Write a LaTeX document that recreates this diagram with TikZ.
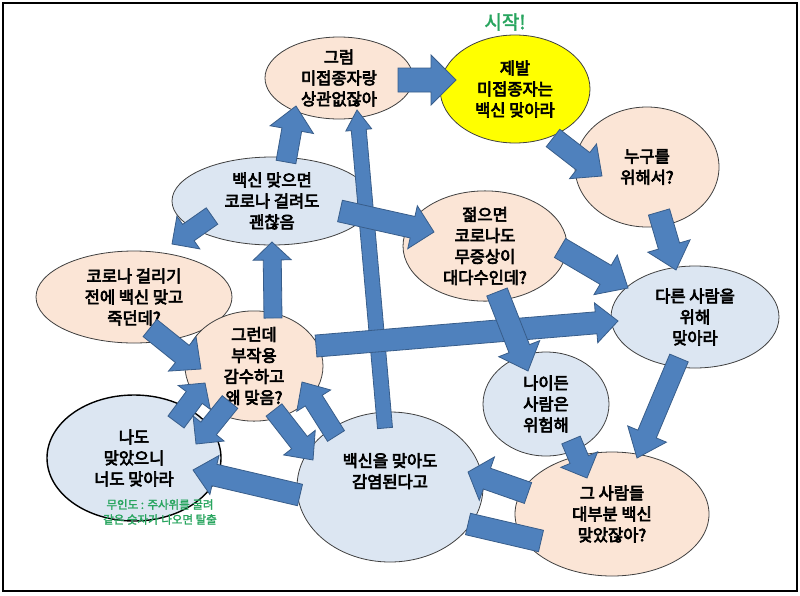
\documentclass[tikz,border=0pt]{standalone}
\usepackage{fontspec}
\setmainfont{Noto Sans CJK KR}
\newfontfamily\krb{Noto Sans CJK KR}[FakeBold=4]
\newfontfamily\krm{Noto Sans CJK KR}[FakeBold=2]
\usetikzlibrary{shapes.geometric,calc}
\definecolor{peach}{RGB}{251,229,214}
\definecolor{lblue}{RGB}{220,230,242}
\definecolor{arrfill}{RGB}{79,129,189}
\definecolor{arrline}{RGB}{56,93,138}
\definecolor{startgreen}{RGB}{40,165,95}
\definecolor{yel}{RGB}{255,255,0}
\tikzset{
 bub/.style={ellipse, draw=black!75, line width=0.8pt, inner sep=0pt, align=center, font=\krb\fontsize{16.5}{21}\selectfont},
 pch/.style={bub, fill=peach},
 blu/.style={bub, fill=lblue},
 arr/.style={fill=arrfill, draw=arrline, line width=0.8pt, line join=miter},
}
\newcommand\blk[5]{%
 \coordinate (blkH) at ($(#2)!#5!(#1)$);
 \filldraw[arr] ($(#1)!#3!90:(#2)$) -- ($(blkH)!#3!90:(#2)$) -- ($(blkH)!#4!90:(#2)$) -- (#2) -- ($(blkH)!#4!-90:(#2)$) -- ($(blkH)!#3!-90:(#2)$) -- ($(#1)!#3!-90:(#2)$) -- cycle;
}
\begin{document}
\begin{tikzpicture}[x=1pt,y=-1pt]
\useasboundingbox (0,0) rectangle (800,595);
\fill[white] (0,0) rectangle (800,595);
\draw[line width=1.2pt] (3,3) rectangle (797,591);

% nodes
\node[pch, minimum width=148pt, minimum height=82pt] (gr) at (339,78) {그럼\\미접종자랑\\상관없잖아};
\node[bub, fill=yel, minimum width=150pt, minimum height=108pt] (je) at (515,89) {제발\\미접종자는\\백신 맞아라};
\node[text=startgreen, font=\krm\fontsize{19}{21}\selectfont, inner sep=0pt] (st) at (505,22) {시작!};
\node[pch, minimum width=144pt, minimum height=120pt] (nu) at (647,167) {누구를\\위해서?};
\node[blu, minimum width=200pt, minimum height=88pt] (bm) at (272,201) {백신 맞으면\\코로나 걸려도\\괜찮음};
\node[pch, minimum width=164pt, minimum height=108pt] (jm) at (485,246) {젊으면\\코로나도\\무증상이\\대다수인데?};
\node[blu, minimum width=168pt, minimum height=102pt] (da) at (695,317) {다른 사람을\\위해\\맞아라};
\node[pch, minimum width=196pt, minimum height=92pt] (ko) at (134,297) {코로나 걸리기\\전에 백신 맞고\\죽던데?};
\node[pch, minimum width=138pt, minimum height=100pt] (gd) at (254,366) {그런데\\부작용\\감수하고\\왜 맞음?};
\node[blu, minimum width=126pt, minimum height=104pt] (ni) at (546,404) {나이든\\사람은\\위험해};
\node[blu, draw=black, line width=1.4pt, minimum width=174pt, minimum height=126pt] (nd) at (134,458) {나도\\맞았으니\\너도 맞아라};
\node[blu, minimum width=186pt, minimum height=150pt] (bv) at (390,487) {백신을 맞아도\\감염된다고\\[12pt]};
\node[pch, minimum width=194pt, minimum height=124pt] (gs) at (612,514) {그 사람들\\대부분 백신\\맞았잖아?};

% arrow end points
\coordinate (a1s) at (398,80);  \coordinate (a1e) at (456,80);
\coordinate (a2s) at (553,138); \coordinate (a2e) at (602,176);
\coordinate (a3s) at (659,212); \coordinate (a3e) at (676,270);
\coordinate (a4s) at (560,248); \coordinate (a4e) at (628,288);
\coordinate (a5s) at (340,211); \coordinate (a5e) at (434,232);
\coordinate (a6s) at (316,346); \coordinate (a6e) at (618,321);
\coordinate (a7s) at (497,292); \coordinate (a7e) at (528,371);
\coordinate (a8s) at (679,358); \coordinate (a8e) at (637,458);
\coordinate (a9s) at (571,440); \coordinate (a9e) at (587,478);
\coordinate (a10s) at (528,493); \coordinate (a10e) at (468,472);
\coordinate (b1s) at (468,524); \coordinate (b1e) at (541,541);
\coordinate (a12s) at (300,495); \coordinate (a12e) at (193,470);
\coordinate (a13s) at (274,410); \coordinate (a13e) at (313,460);
\coordinate (a14s) at (336,436); \coordinate (a14e) at (302,382);
\coordinate (a15s) at (176,422); \coordinate (a15e) at (205,383);
\coordinate (a16s) at (230,402); \coordinate (a16e) at (196,444);
\coordinate (a17s) at (150,328); \coordinate (a17e) at (201,369);
\coordinate (a18s) at (273,318); \coordinate (a18e) at (272,242);
\coordinate (a19s) at (212,216); \coordinate (a19e) at (172,244);
\coordinate (a20s) at (286,162); \coordinate (a20e) at (296,106);
\coordinate (a21s) at (385,428); \coordinate (a21e) at (357,110);

% arrows
\blk{a21s}{a21e}{7.5pt}{13pt}{20pt}
\blk{a1s}{a1e}{12pt}{25pt}{25pt}
\blk{a2s}{a2e}{11pt}{22pt}{24pt}
\blk{a3s}{a3e}{11pt}{22pt}{25pt}
\blk{a4s}{a4e}{11pt}{23pt}{26pt}
\blk{a5s}{a5e}{11pt}{22pt}{22pt}
\blk{a6s}{a6e}{11pt}{20pt}{22pt}
\blk{a7s}{a7e}{11pt}{22pt}{24pt}
\blk{a8s}{a8e}{10pt}{21pt}{26pt}
\blk{a9s}{a9e}{10pt}{20pt}{20pt}
\blk{a10s}{a10e}{11pt}{23pt}{20pt}
\filldraw[arr] ($(b1s)!11pt!90:(b1e)$) -- ($(b1e)!11pt!-90:(b1s)$) -- ($(b1e)!11pt!90:(b1s)$) -- ($(b1s)!11pt!-90:(b1e)$) -- cycle;
\blk{a12s}{a12e}{11pt}{20pt}{22pt}
\blk{a13s}{a13e}{10pt}{20pt}{22pt}
\blk{a14s}{a14e}{10pt}{20pt}{22pt}
\blk{a15s}{a15e}{10pt}{20pt}{18pt}
\blk{a16s}{a16e}{10pt}{20pt}{20pt}
\blk{a17s}{a17e}{11pt}{22pt}{24pt}
\blk{a18s}{a18e}{9pt}{19pt}{18pt}
\blk{a19s}{a19e}{10pt}{20pt}{20pt}
\blk{a20s}{a20e}{10pt}{22pt}{24pt}

% note
\node[text=startgreen, font=\krm\fontsize{11.5}{15}\selectfont, align=center, inner sep=0pt] (note) at (160,512) {무인도 : 주사위를 굴려\\같은 숫자가 나오면 탈출};
\end{tikzpicture}
\end{document}
